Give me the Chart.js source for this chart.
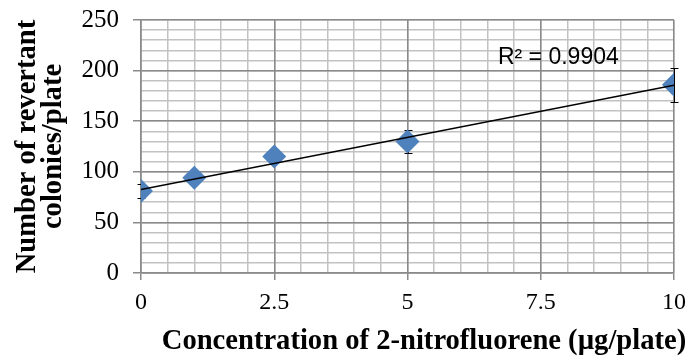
<!DOCTYPE html>
<html>
<head>
<meta charset="utf-8">
<script src="https://cdn.jsdelivr.net/npm/chart.js@4.4.1/dist/chart.umd.min.js"></script>
<style>
  html, body { margin: 0; padding: 0; background: #fff; }
  #wrap { width: 690px; height: 360px; }
</style>
</head>
<body>
<div id="wrap"><canvas id="grafico"></canvas></div>
<script>
// datos
const concentracion = [0, 1, 2.5, 5, 10];
const revertantes = [81, 94, 115, 130, 186];
const errores = [7, 6, 5, 11, 17];
const tendenciaX = [0, 10];
const tendenciaY = [82.5, 185.5];
const ticksX = [0, 2.5, 5, 7.5, 10];
const ticksY = [0, 50, 100, 150, 200, 250];
const textoR2 = 'R² = 0.9904';
const tituloX = 'Concentration of 2-nitrofluorene (µg/plate)';

const SERIF = '"Liberation Serif", "Times New Roman", serif';
const GRIS_MAYOR = '#8a8a8a';
const GRIS_MENOR = '#c2c2c2';

// barras de error, dibujadas detras de los marcadores
const barrasError = {
  id: 'barrasError',
  beforeDatasetsDraw(chart) {
    const { ctx, scales } = chart;
    ctx.save();
    ctx.strokeStyle = '#000';
    ctx.lineWidth = 1;
    concentracion.forEach((c, i) => {
      const x = Math.round(scales.x.getPixelForValue(c)) + 0.5;
      const yA = Math.round(scales.y.getPixelForValue(revertantes[i] + errores[i])) + 0.5;
      const yB = Math.round(scales.y.getPixelForValue(revertantes[i] - errores[i])) + 0.5;
      ctx.beginPath();
      ctx.moveTo(x, yA); ctx.lineTo(x, yB);
      ctx.moveTo(x - 4, yA); ctx.lineTo(x + 4, yA);
      ctx.moveTo(x - 4, yB); ctx.lineTo(x + 4, yB);
      ctx.stroke();
    });
    ctx.restore();
  }
};

// etiqueta del R2 y titulo del eje x (desplazado a la derecha como en el original)
const textos = {
  id: 'textos',
  afterDraw(chart) {
    const { ctx, scales } = chart;
    ctx.save();
    ctx.fillStyle = '#000';
    ctx.textAlign = 'center';
    ctx.textBaseline = 'middle';
    ctx.font = '23px "Liberation Sans", Arial, sans-serif';
    ctx.fillText(textoR2, scales.x.getPixelForValue(7.83), scales.y.getPixelForValue(213));
    ctx.font = 'bold 28.6px ' + SERIF;
    ctx.fillText(tituloX, 424, 342);
    ctx.restore();
  }
};

const ejeMenor = (pos, paso, max) => ({
  type: 'linear', position: pos, min: 0, max: max,
  ticks: { display: false, stepSize: paso },
  grid: { color: GRIS_MENOR, lineWidth: 1.5, drawTicks: false, z: -2 },
  border: { display: false },
  afterFit(s) {
    if (pos === 'bottom') s.height = 0; else s.width = 0;
    s.paddingTop = s.paddingBottom = s.paddingLeft = s.paddingRight = 0;
  }
});

new Chart(document.getElementById('grafico'), {
  type: 'scatter',
  data: {
    datasets: [
      {
        label: 'tendencia',
        type: 'line',
        data: tendenciaX.map((x, i) => ({ x: x, y: tendenciaY[i] })),
        borderColor: '#000',
        borderWidth: 1.5,
        pointRadius: 0,
        fill: false
      },
      {
        label: 'revertantes',
        data: concentracion.map((x, i) => ({ x: x, y: revertantes[i] })),
        pointStyle: 'rectRot',
        pointRadius: 12,
        pointBackgroundColor: '#4F81BD',
        pointBorderColor: '#4F81BD',
        pointBorderWidth: 0
      }
    ]
  },
  options: {
    responsive: true,
    maintainAspectRatio: false,
    animation: false,
    layout: { padding: { left: 0, right: 16, top: 20, bottom: 0 } },
    plugins: { legend: { display: false }, tooltip: { enabled: false } },
    scales: {
      xMenor: ejeMenor('bottom', 0.5, 10),
      yMenor: ejeMenor('left', 10, 250),
      x: {
        type: 'linear', position: 'bottom', min: 0, max: 10,
        afterBuildTicks(s) { s.ticks = ticksX.map(v => ({ value: v })); },
        ticks: { font: { family: SERIF, size: 24 }, color: '#000', padding: 8 },
        grid: { color: GRIS_MAYOR, lineWidth: 1.5, tickLength: 7, z: -1 },
        border: { color: GRIS_MAYOR, width: 1.5 },
        afterFit(s) { s.height = 87; s.paddingLeft = 0; s.paddingRight = 0; }
      },
      y: {
        type: 'linear', position: 'left', min: 0, max: 250,
        afterBuildTicks(s) { s.ticks = ticksY.map(v => ({ value: v })); },
        ticks: { font: { family: SERIF, size: 25 }, color: '#000', padding: 14 },
        grid: { color: GRIS_MAYOR, lineWidth: 1.5, tickLength: 8, z: -1 },
        border: { color: GRIS_MAYOR, width: 1.5 },
        title: {
          display: true,
          text: ['Number of revertant', 'colonies/plate'],
          font: { family: SERIF, size: 28.6, weight: 'bold', lineHeight: 0.92 },
          color: '#000',
          padding: { top: 14, bottom: 0 }
        },
        afterFit(s) { s.width = 141; s.paddingTop = 0; s.paddingBottom = 0; }
      }
    }
  },
  plugins: [barrasError, textos]
});
</script>
</body>
</html>
